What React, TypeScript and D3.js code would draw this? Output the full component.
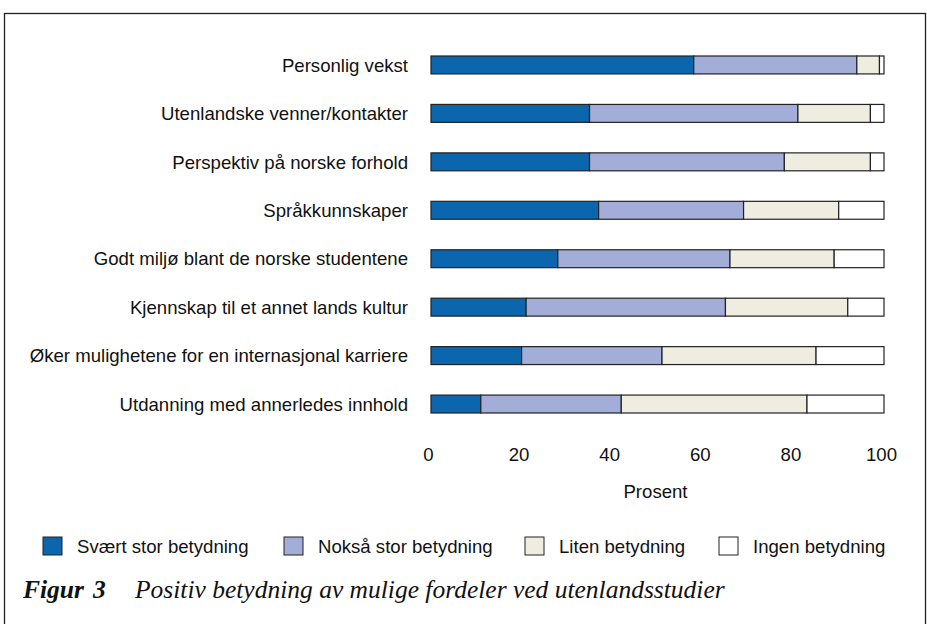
import React, { useEffect, useRef } from "react";
import * as d3 from "d3";

const categories = [
  "Personlig vekst",
  "Utenlandske venner/kontakter",
  "Perspektiv på norske forhold",
  "Språkkunnskaper",
  "Godt miljø blant de norske studentene",
  "Kjennskap til et annet lands kultur",
  "Øker mulighetene for en internasjonal karriere",
  "Utdanning med annerledes innhold",
];

const seriesNames = [
  "Svært stor betydning",
  "Nokså stor betydning",
  "Liten betydning",
  "Ingen betydning",
];

const svaertStor = [58, 35, 35, 37, 28, 21, 20, 11];
const noksaStor = [36, 46, 43, 32, 38, 44, 31, 31];
const liten = [5, 16, 19, 21, 23, 27, 34, 41];
const ingen = [1, 3, 3, 10, 11, 8, 15, 17];

const xTicks = [0, 20, 40, 60, 80, 100];

const colors = ["#0b66ae", "#a3aed8", "#efede0", "#ffffff"];

export default function App() {
  const svgRef = useRef<SVGSVGElement | null>(null);

  useEffect(() => {
    if (!svgRef.current) return;

    const width = 927;
    const height = 624;
    const font = "Liberation Sans, Arial, sans-serif";
    const fs = 18.6;

    d3.select(svgRef.current).selectAll("*").remove();

    const svg = d3
      .select(svgRef.current)
      .attr("width", width)
      .attr("height", height)
      .attr("viewBox", `0 0 ${width} ${height}`);

    svg.append("rect").attr("width", width).attr("height", height).attr("fill", "#fff");

    // frame round the figure (bottom edge runs off the page)
    svg
      .append("rect")
      .attr("x", 4.5)
      .attr("y", 13.5)
      .attr("width", 921)
      .attr("height", 700)
      .attr("fill", "none")
      .attr("stroke", "#222")
      .attr("stroke-width", 1.3);

    const rows = categories.map((c, i) => ({
      category: c,
      s0: svaertStor[i],
      s1: noksaStor[i],
      s2: liten[i],
      s3: ingen[i],
    }));

    const keys = ["s0", "s1", "s2", "s3"];
    const stacked = d3.stack<any>().keys(keys)(rows);

    const x = d3.scaleLinear().domain([0, 100]).range([431, 884]);

    const y = d3
      .scaleBand()
      .domain(categories)
      .range([56, 413])
      .paddingInner(0.63)
      .paddingOuter(0);

    // category labels
    svg
      .append("g")
      .selectAll("text")
      .data(categories)
      .join("text")
      .attr("x", 408)
      .attr("y", (d) => (y(d) ?? 0) + y.bandwidth() / 2)
      .attr("dy", "0.36em")
      .attr("text-anchor", "end")
      .attr("font-family", font)
      .attr("font-size", fs)
      .attr("fill", "#111")
      .text((d) => d);

    // stacked bars
    svg
      .append("g")
      .selectAll("g")
      .data(stacked)
      .join("g")
      .attr("fill", (_d, i) => colors[i])
      .selectAll("rect")
      .data((d) => d)
      .join("rect")
      .attr("x", (d) => x(d[0]))
      .attr("y", (d: any) => y(d.data.category) ?? 0)
      .attr("width", (d) => x(d[1]) - x(d[0]))
      .attr("height", y.bandwidth())
      .attr("stroke", "#222")
      .attr("stroke-width", 1.2);

    // x axis: labels only
    const axis = svg
      .append("g")
      .attr("transform", "translate(0,448)")
      .call(d3.axisBottom(x).tickValues(xTicks).tickSize(0).tickPadding(0));
    axis.select(".domain").remove();
    axis
      .selectAll("text")
      .attr("dx", -3)
      .attr("dy", "0.71em")
      .attr("font-family", font)
      .attr("font-size", fs)
      .attr("fill", "#111");

    svg
      .append("text")
      .attr("x", (x(0) + x(100)) / 2 - 2)
      .attr("y", 498)
      .attr("text-anchor", "middle")
      .attr("font-family", font)
      .attr("font-size", fs)
      .attr("fill", "#111")
      .text("Prosent");

    // legend
    const legendX = [43, 284, 525, 719];
    const legend = svg
      .append("g")
      .selectAll("g")
      .data(seriesNames)
      .join("g")
      .attr("transform", (_d, i) => `translate(${legendX[i]},537)`);
    legend
      .append("rect")
      .attr("width", 19)
      .attr("height", 18)
      .attr("fill", (_d, i) => colors[i])
      .attr("stroke", "#222")
      .attr("stroke-width", 1);
    legend
      .append("text")
      .attr("x", 34)
      .attr("y", 16)
      .attr("font-family", font)
      .attr("font-size", fs)
      .attr("fill", "#111")
      .text((d) => d);

    // caption
    const caption = svg
      .append("text")
      .attr("y", 598)
      .attr("font-family", "Liberation Serif, Times New Roman, serif")
      .attr("font-style", "italic")
      .attr("font-size", 25.5)
      .attr("fill", "#111");
    caption.append("tspan").attr("x", 23).attr("font-weight", "bold").text("Figur");
    caption.append("tspan").attr("x", 93).attr("font-weight", "bold").text("3");
    caption.append("tspan").attr("x", 135).text("Positiv betydning av mulige fordeler ved utenlandsstudier");
  }, []);

  return (
    <svg
      ref={svgRef}
      style={{ position: "absolute", left: 0, top: 0, display: "block" }}
    />
  );
}
